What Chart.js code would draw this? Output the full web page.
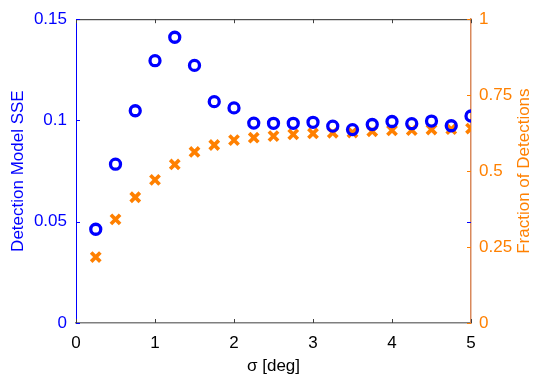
<!DOCTYPE html>
<html>
<head>
<meta charset="utf-8">
<script src="https://cdn.jsdelivr.net/npm/chart.js@4/dist/chart.umd.min.js"></script>
<style>
  html, body { margin: 0; padding: 0; background: #fff; }
  #wrap { width: 540px; height: 383px; }
</style>
</head>
<body>
<div id="wrap"><canvas id="chart" width="540" height="383"></canvas></div>
<script>
// data
const sigma = [0.25, 0.5, 0.75, 1.0, 1.25, 1.5, 1.75, 2.0, 2.25, 2.5,
               2.75, 3.0, 3.25, 3.5, 3.75, 4.0, 4.25, 4.5, 4.75, 5.0];
const sse = [0.0463, 0.0784, 0.1048, 0.1295, 0.1411, 0.1272, 0.1093, 0.1062, 0.0987, 0.0986,
             0.0986, 0.0991, 0.0972, 0.0955, 0.0980, 0.0995, 0.0984, 0.0997, 0.0974, 0.1022];
const fraction = [0.217, 0.341, 0.414, 0.471, 0.522, 0.563, 0.586, 0.602, 0.610, 0.615,
                  0.621, 0.624, 0.626, 0.627, 0.631, 0.634, 0.635, 0.637, 0.638, 0.640];

const xTicks = [0, 1, 2, 3, 4, 5];
const leftTicks = [0, 0.05, 0.1, 0.15];
const rightTicks = [0, 0.25, 0.5, 0.75, 1];
const rightTitle = 'Fraction of Detections';

const BLUE = '#0000ff';
const ORANGE = '#ff8000';
const FONT = "'Liberation Sans', Arial, Helvetica, sans-serif";

function toPairs(xs, ys) {
    return xs.map((x, i) => ({ x: x, y: ys[i] }));
}

// MATLAB-style inward ticks, top box edge and the right title (reads bottom-up)
const boxTicks = {
    id: 'boxTicks',
    afterDraw(chart) {
        const ctx = chart.ctx;
        const a = chart.chartArea;
        const len = 4;
        ctx.save();
        ctx.lineWidth = 1;

        ctx.strokeStyle = '#262626';
        ctx.beginPath();
        ctx.moveTo(a.left, a.top + 0.5);
        ctx.lineTo(a.right, a.top + 0.5);
        ctx.stroke();

        const xs = chart.scales.x;
        ctx.strokeStyle = '#404040';
        xTicks.forEach(v => {
            const px = Math.round(xs.getPixelForValue(v)) + 0.5;
            ctx.beginPath();
            ctx.moveTo(px, a.bottom);
            ctx.lineTo(px, a.bottom - len);
            ctx.moveTo(px, a.top);
            ctx.lineTo(px, a.top + len);
            ctx.stroke();
        });

        const yl = chart.scales.y;
        ctx.strokeStyle = BLUE;
        leftTicks.forEach(v => {
            const py = Math.round(yl.getPixelForValue(v)) + 0.5;
            ctx.beginPath();
            ctx.moveTo(a.left, py);
            ctx.lineTo(a.left + len, py);
            ctx.moveTo(a.right, py);
            ctx.lineTo(a.right - len, py);
            ctx.stroke();
        });

        const yr = chart.scales.y1;
        ctx.strokeStyle = ORANGE;
        rightTicks.forEach(v => {
            const py = Math.round(yr.getPixelForValue(v)) + 0.5;
            ctx.beginPath();
            ctx.moveTo(a.right, py);
            ctx.lineTo(a.right - len, py);
            ctx.stroke();
        });

        ctx.translate(524, (a.top + a.bottom) / 2);
        ctx.rotate(-Math.PI / 2);
        ctx.fillStyle = ORANGE;
        ctx.font = '17px ' + FONT;
        ctx.textAlign = 'center';
        ctx.textBaseline = 'middle';
        ctx.fillText(rightTitle, 0, 0);
        ctx.restore();
    }
};

new Chart(document.getElementById('chart'), {
    type: 'scatter',
    data: {
        datasets: [{
            label: 'Detection Model SSE',
            data: toPairs(sigma, sse),
            yAxisID: 'y',
            pointStyle: 'circle',
            radius: 5,
            borderWidth: 3.3,
            borderColor: BLUE,
            backgroundColor: 'rgba(0,0,0,0)',
            clip: 0
        }, {
            label: rightTitle,
            data: toPairs(sigma, fraction),
            yAxisID: 'y1',
            pointStyle: 'crossRot',
            radius: 6.5,
            borderWidth: 3.7,
            borderColor: ORANGE,
            backgroundColor: ORANGE,
            clip: 0
        }]
    },
    options: {
        responsive: false,
        animation: false,
        layout: { padding: { top: 13, left: 0, right: 0, bottom: 0 } },
        plugins: {
            legend: { display: false },
            tooltip: { enabled: false }
        },
        scales: {
            x: {
                type: 'linear',
                min: 0,
                max: 5,
                afterBuildTicks: s => { s.ticks = xTicks.map(v => ({ value: v })); },
                afterFit: s => { s.height = 60; },
                grid: { display: false, drawTicks: false },
                border: { display: true, color: '#7f7f7f', width: 1.5 },
                ticks: { color: '#000', padding: 10, font: { family: FONT, size: 17 } },
                title: {
                    display: true,
                    text: 'σ [deg]',
                    color: '#000',
                    font: { family: FONT, size: 17 },
                    padding: { top: 0, bottom: 6 }
                }
            },
            y: {
                type: 'linear',
                position: 'left',
                min: 0,
                max: 0.15,
                afterBuildTicks: s => { s.ticks = leftTicks.map(v => ({ value: v })); },
                afterFit: s => { s.width = 76; },
                grid: { display: false, drawTicks: false },
                border: { display: true, color: BLUE, width: 1 },
                ticks: {
                    color: BLUE,
                    padding: 9,
                    font: { family: FONT, size: 17 },
                    callback: v => String(v)
                },
                title: {
                    display: true,
                    text: 'Detection Model SSE',
                    color: BLUE,
                    font: { family: FONT, size: 17 },
                    padding: { top: 8, bottom: 0 }
                }
            },
            y1: {
                type: 'linear',
                position: 'right',
                min: 0,
                max: 1,
                afterBuildTicks: s => { s.ticks = rightTicks.map(v => ({ value: v })); },
                afterFit: s => { s.width = 69; },
                grid: { display: false, drawTicks: false },
                border: { display: true, color: '#d9895c', width: 1.5 },
                ticks: {
                    color: ORANGE,
                    padding: 8,
                    font: { family: FONT, size: 17 },
                    callback: v => String(v)
                },
                title: { display: false }
            }
        }
    },
    plugins: [boxTicks]
});
</script>
</body>
</html>
